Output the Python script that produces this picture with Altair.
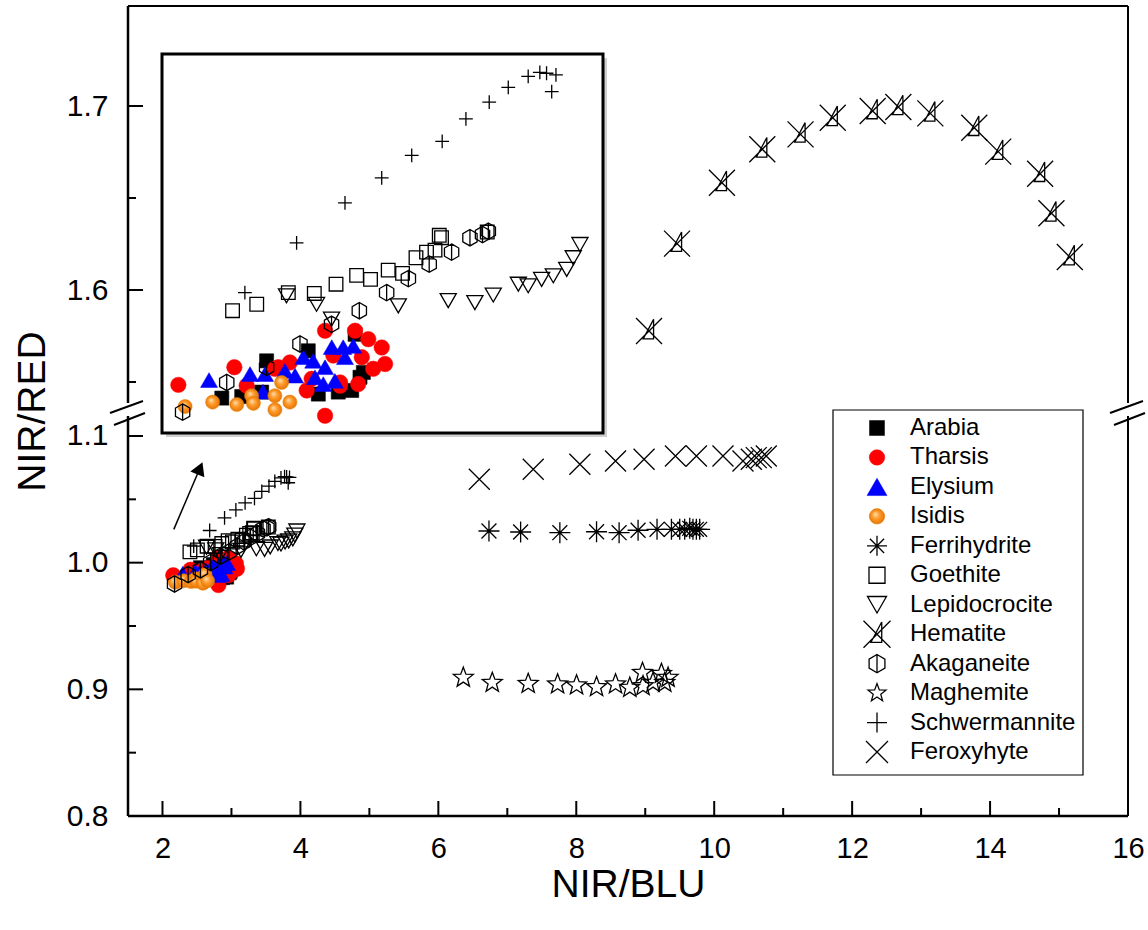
import altair as alt
import pandas as pd

# ---------------------------------------------------------------- layout
W, H = 1000, 810
PAD = {"left": 128, "top": 6, "right": 20, "bottom": 114}
FONT = "Liberation Sans"

# ---------------------------------------------------------------- series
SERIES = ["Arabia", "Tharsis", "Elysium", "Isidis", "Ferrihydrite", "Goethite",
          "Lepidocrocite", "Hematite", "Akaganeite", "Maghemite", "Schwermannite",
          "Feroxyhyte"]

arabia_x = [2.350, 2.439, 2.550, 2.528, 2.781, 2.870, 2.930, 2.736, 2.945, 2.982, 2.967]
arabia_y = [0.9867, 0.9871, 0.9960, 0.9882, 0.9877, 0.9882, 0.9886, 0.9985, 1.0026, 0.9931, 0.9919]

tharsis_x = [2.156, 2.406, 2.461, 2.587, 2.811, 2.945, 3.004, 3.064, 3.079, 3.026,
             2.959, 2.729, 2.654, 2.602, 2.811, 2.878, 2.975, 2.878, 2.751, 2.848]
tharsis_y = [0.9900, 0.9944, 0.9898, 0.9940, 1.0035, 1.0035, 1.0014, 0.9993, 0.9952, 0.9940,
             0.9902, 0.9886, 0.9956, 0.9944, 0.9823, 0.9898, 0.9969, 0.9906, 0.9915, 0.9973]

elysium_x = [2.293, 2.476, 2.543, 2.534, 2.714, 2.758, 2.841, 2.892, 2.937, 2.811,
             2.855, 2.803, 2.632, 2.677, 2.900, 2.766]
elysium_y = [0.9912, 0.9927, 0.9927, 0.9883, 0.9969, 0.9960, 0.9994, 0.9994, 0.9997, 0.9944,
             0.9910, 0.9902, 0.9935, 0.9923, 0.9969, 0.9919]

isidis_x = [2.186, 2.309, 2.417, 2.483, 2.491, 2.587, 2.587, 2.617, 2.654]
isidis_y = [0.9846, 0.9857, 0.9851, 0.9873, 0.9854, 0.9873, 0.9838, 0.9906, 0.9857]

ferrihydrite_x = [6.734, 7.193, 7.762, 8.294, 8.621, 8.896, 9.171, 9.380, 9.500, 9.572,
                  9.645, 9.692, 9.741, 9.789]
ferrihydrite_y = [1.0250, 1.0242, 1.0237, 1.0244, 1.0237, 1.0256, 1.0263, 1.0263, 1.0263, 1.0263,
                  1.0271, 1.0263, 1.0263, 1.0263]

goethite_x = [2.398, 2.506, 2.647, 2.763, 2.860, 2.952, 3.014, 3.093, 3.157, 3.217,
              3.264, 3.302, 3.321, 3.331, 3.535]
goethite_y = [1.0085, 1.0101, 1.0130, 1.0128, 1.0151, 1.0173, 1.0163, 1.0186, 1.0178, 1.0217,
              1.0231, 1.0236, 1.0273, 1.0267, 1.0281]

lepidocrocite_x = [2.639, 2.773, 2.840, 3.138, 3.361, 3.480, 3.562, 3.674, 3.718, 3.778,
                   3.830, 3.890, 3.919, 3.949]
lepidocrocite_y = [1.0122, 1.0101, 1.0064, 1.0097, 1.0110, 1.0105, 1.0124, 1.0151, 1.0147, 1.0163,
                   1.0172, 1.0188, 1.0217, 1.0250]

hematite_x = [9.055, 9.461, 10.112, 10.697, 11.252, 11.719, 12.298, 12.670, 13.134, 13.771,
              14.118, 14.726, 14.890, 15.156]
hematite_y = [1.5777, 1.6252, 1.6583, 1.6765, 1.6846, 1.6936, 1.6973, 1.6995, 1.6960, 1.6882,
              1.6752, 1.6632, 1.6417, 1.6179]

akaganeite_x = [2.175, 2.372, 2.550, 2.699, 2.840, 2.964, 3.086, 3.183, 3.276, 3.376,
                3.458, 3.514, 3.540]
akaganeite_y = [0.9832, 0.9906, 0.9944, 1.0002, 1.0051, 1.0085, 1.0130, 1.0165, 1.0201, 1.0231,
                1.0267, 1.0275, 1.0283]

maghemite_x = [6.362, 6.782, 7.303, 7.729, 8.004, 8.294, 8.569, 8.776, 8.960, 8.968,
               9.113, 9.235, 9.283, 9.331]
maghemite_y = [0.9092, 0.9052, 0.9044, 0.9040, 0.9032, 0.9018, 0.9040, 0.9013, 0.9131, 0.9026,
               0.9052, 0.9123, 0.9052, 0.9092]

schwermannite_x = [2.453, 2.684, 2.900, 3.064, 3.198, 3.334, 3.440, 3.544, 3.629, 3.718,
                   3.770, 3.800, 3.842, 3.823]
schwermannite_y = [1.0130, 1.0254, 1.0354, 1.0416, 1.0472, 1.0507, 1.0563, 1.0605, 1.0642, 1.0669,
                   1.0679, 1.0677, 1.0673, 1.0631]

feroxyhyte_x = [6.594, 7.376, 8.052, 8.569, 8.983, 9.438, 9.742, 10.127, 10.417, 10.538,
                10.610, 10.683, 10.755]
feroxyhyte_y = [1.0658, 1.0737, 1.0777, 1.0803, 1.0816, 1.0842, 1.0842, 1.0842, 1.0803, 1.0816,
                1.0829, 1.0829, 1.0842]

VALUES = {
    "Arabia": (arabia_x, arabia_y),
    "Tharsis": (tharsis_x, tharsis_y),
    "Elysium": (elysium_x, elysium_y),
    "Isidis": (isidis_x, isidis_y),
    "Ferrihydrite": (ferrihydrite_x, ferrihydrite_y),
    "Goethite": (goethite_x, goethite_y),
    "Lepidocrocite": (lepidocrocite_x, lepidocrocite_y),
    "Hematite": (hematite_x, hematite_y),
    "Akaganeite": (akaganeite_x, akaganeite_y),
    "Maghemite": (maghemite_x, maghemite_y),
    "Schwermannite": (schwermannite_x, schwermannite_y),
    "Feroxyhyte": (feroxyhyte_x, feroxyhyte_y),
}
CLUSTER = ["Arabia", "Tharsis", "Elysium", "Isidis", "Goethite", "Lepidocrocite",
           "Akaganeite", "Schwermannite"]

# axis ticks
X_MAJOR = [2, 4, 6, 8, 10, 12, 14, 16]
X_MINOR = [3, 5, 7, 9, 11, 13, 15]
Y_MAJOR = [0.8, 0.9, 1.0, 1.1, 1.6, 1.7]
Y_MINOR = [0.85, 0.95, 1.05, 1.55, 1.65]

# arrow pointing at the magnified region (NIR/BLU, NIR/RED)
ARROW_FROM = (2.164, 1.0263)
ARROW_TO = (2.507, 1.0700)
ARROW_HEAD = (2.543, 1.0745)

# inset window
INSET_X = [2.083, 4.052]
INSET_Y = [0.978, 1.0725]
INSET_RANGE_X = [34, 475]
INSET_RANGE_Y = [427, 48]

# ---------------------------------------------------------------- marker styles
ASTERISK = "M-1,0L1,0M0,-1L0,1M-0.71,-0.71L0.71,0.71M-0.71,0.71L0.71,-0.71"
HEMATITE = "M-1,-1L1,1M-1,1L1,-1M0.35,-0.9L0.35,0.6L-0.45,0.6Z"
HEXBAR = "M0,-1L0.87,-0.5L0.87,0.5L0,1L-0.87,0.5L-0.87,-0.5ZM0,-1L0,1"
STAR = ("M0,-1L0.247,-0.34L0.951,-0.309L0.399,0.13L0.588,0.809L0,0.42"
        "L-0.588,0.809L-0.399,0.13L-0.951,-0.309L-0.247,-0.34Z")
PLUS = "M-1,0L1,0M0,-1L0,1"
CROSS = "M-1,-1L1,1M-1,1L1,-1"

SPHERE = {
    "gradient": "radial",
    "x1": 0.38, "y1": 0.35, "r1": 0.0,
    "x2": 0.5, "y2": 0.5, "r2": 0.55,
    "stops": [
        {"offset": 0.0, "color": "#ffe2b8"},
        {"offset": 0.45, "color": "#ff9a2a"},
        {"offset": 1.0, "color": "#e07000"},
    ],
}

# name: (shape, fill, stroke, stroke width, plot size, legend size)
STYLE = {
    "Arabia": ("square", "#000000", "#000000", 0.5, 200, 225),
    "Tharsis": ("circle", "#ff0000", "#ff0000", 0.5, 240, 240),
    "Elysium": ("triangle-up", "#0000ff", "#0000ff", 0.5, 290, 400),
    "Isidis": ("circle", SPHERE, "#e88000", 0.5, 200, 240),
    "Ferrihydrite": (ASTERISK, "transparent", "#000000", 1.3, 441, 400),
    "Goethite": ("square", "transparent", "#000000", 1.3, 185, 256),
    "Lepidocrocite": ("triangle-down", "transparent", "#000000", 1.3, 260, 361),
    "Hematite": (HEMATITE, "transparent", "#000000", 1.3, 676, 729),
    "Akaganeite": (HEXBAR, "transparent", "#000000", 1.3, 270, 330),
    "Maghemite": (STAR, "transparent", "#000000", 1.3, 440, 360),
    "Schwermannite": (PLUS, "transparent", "#000000", 1.3, 190, 400),
    "Feroxyhyte": (CROSS, "transparent", "#000000", 1.3, 441, 484),
}

# ---------------------------------------------------------------- broken y axis
LOW_BASE, LOW_SCALE = 0.8, 1266.667
HIGH_REF, HIGH_SCALE, HIGH_AT = 1.6, 1840.0, 526.0
SPLIT = 1.3


def disp(v):
    return (v - LOW_BASE) * LOW_SCALE if v < SPLIT else HIGH_AT + (v - HIGH_REF) * HIGH_SCALE


def disp_expr(field):
    return (f"datum.{field} < {SPLIT} ? (datum.{field} - {LOW_BASE}) * {LOW_SCALE}"
            f" : {HIGH_AT} + (datum.{field} - {HIGH_REF}) * {HIGH_SCALE}")


LABEL_EXPR = (f"datum.value < 460 ? format({LOW_BASE} + datum.value / {LOW_SCALE}, '.1f')"
              f" : format({HIGH_REF} + (datum.value - {HIGH_AT}) / {HIGH_SCALE}, '.1f')")

# ---------------------------------------------------------------- tables
rows = []
for name in SERIES:
    xs, ys = VALUES[name]
    for a, b in zip(xs, ys):
        rows.append({"series": name, "nir_blu": a, "nir_red": b})
points = pd.DataFrame(rows)
ONE = pd.DataFrame({"k": [0]})

# ---------------------------------------------------------------- main axes
X_AXIS = alt.Axis(
    title="NIR/BLU", values=X_MAJOR, format="d", ticks=False, domain=False, grid=False,
    labelFont=FONT, labelFontSize=29, labelPadding=18, labelColor="black",
    labelFlush=False, labelOverlap=False,
    titleFont=FONT, titleFontSize=39, titleFontWeight="normal", titleColor="black",
    titlePadding=2,
)
Y_AXIS = alt.Axis(
    title="NIR/RED", values=[disp(v) for v in Y_MAJOR], labelExpr=LABEL_EXPR,
    ticks=False, domain=False, grid=False,
    labelFont=FONT, labelFontSize=30, labelPadding=20, labelColor="black",
    labelOverlap=False, labelFlush=False,
    titleFont=FONT, titleFontSize=39, titleFontWeight="normal", titleColor="black",
    titlePadding=14,
)
X_SCALE = alt.Scale(domain=[1.5, 16], nice=False, zero=False)
Y_SCALE = alt.Scale(domain=[0, H], nice=False, zero=False)


def xm(field="nir_blu"):
    return alt.X(f"{field}:Q", scale=X_SCALE, axis=X_AXIS)


def ym(field="disp"):
    return alt.Y(f"{field}:Q", scale=Y_SCALE, axis=Y_AXIS)


def series_marks(data, names, xenc, yenc, calc=None, legend=False):
    layers = []
    for name in names:
        shape, fill, stroke, sw, size, lsize = STYLE[name]
        base = alt.Chart(data).transform_filter(alt.datum.series == name)
        if calc:
            base = base.transform_calculate(**calc)
        layers.append(base.mark_point(
            shape=shape, fill=fill, stroke=stroke, strokeWidth=sw, filled=True,
            opacity=1, size=lsize if legend else size,
        ).encode(x=xenc, y=yenc))
    return layers


def seg(x1, y1, x2, y2, w=2.0):
    return alt.Chart(ONE).mark_rule(color="black", strokeWidth=w, strokeCap="butt").encode(
        x=alt.value(x1), y=alt.value(y1), x2=alt.value(x2), y2=alt.value(y2))


# ---------------------------------------------------------------- main panel
main_pts = series_marks(points, SERIES, xm(), ym(), calc={"disp": disp_expr("nir_red")})

x_major = alt.Chart(pd.DataFrame({"nir_blu": X_MAJOR})).mark_rule(
    color="black", strokeWidth=2).encode(x=xm(), y=alt.value(H), y2=alt.value(H - 15))
x_minor = alt.Chart(pd.DataFrame({"nir_blu": X_MINOR})).mark_rule(
    color="black", strokeWidth=2).encode(x=xm(), y=alt.value(H), y2=alt.value(H - 8))
y_major = alt.Chart(pd.DataFrame({"nir_red": Y_MAJOR})).transform_calculate(
    disp=disp_expr("nir_red")).mark_rule(color="black", strokeWidth=2).encode(
    y=ym(), x=alt.value(0), x2=alt.value(15))
y_minor = alt.Chart(pd.DataFrame({"nir_red": Y_MINOR})).transform_calculate(
    disp=disp_expr("nir_red")).mark_rule(color="black", strokeWidth=2).encode(
    y=ym(), x=alt.value(0), x2=alt.value(8))

# frame with the axis break on both vertical sides
GAP_TOP, GAP_BOT = 397, 410
frame = [
    seg(0, 0, W, 0, 2), seg(0, H, W, H, 2.5),
    seg(0, 0, 0, GAP_TOP, 2.5), seg(0, GAP_BOT, 0, H, 2.5),
    seg(W, 0, W, GAP_TOP, 2), seg(W, GAP_BOT, W, H, 2),
    seg(-18, 407, 15, 395, 2), seg(-14, 419, 17, 407, 2),
    seg(W - 18, 407, W + 15, 395, 2), seg(W - 14, 419, W + 17, 407, 2),
]

arrow_df = pd.DataFrame({"x0": [ARROW_FROM[0]], "y0": [ARROW_FROM[1]],
                         "x1": [ARROW_TO[0]], "y1": [ARROW_TO[1]],
                         "hx": [ARROW_HEAD[0]], "hy": [ARROW_HEAD[1]]})
arrow_line = alt.Chart(arrow_df).transform_calculate(
    d0=disp_expr("y0"), d1=disp_expr("y1")).mark_rule(color="black", strokeWidth=1.5).encode(
    x=xm("x0"), y=ym("d0"), x2=alt.X2("x1"), y2=alt.Y2("d1"))
arrow_head = alt.Chart(arrow_df).transform_calculate(
    dh=disp_expr("hy")).mark_point(shape="triangle-up", filled=True, color="black",
                                   opacity=1, size=230, angle=23).encode(
    x=xm("hx"), y=ym("dh"))

main_group = alt.layer(x_major, x_minor, y_major, y_minor, *frame, *main_pts,
                       arrow_line, arrow_head)

# ---------------------------------------------------------------- inset
IX_SCALE = alt.Scale(domain=INSET_X, range=INSET_RANGE_X, nice=False, zero=False)
IY_SCALE = alt.Scale(domain=INSET_Y, range=INSET_RANGE_Y, nice=False, zero=False)


def xi(field="nir_blu"):
    return alt.X(f"{field}:Q", scale=IX_SCALE, axis=None)


def yi(field="nir_red"):
    return alt.Y(f"{field}:Q", scale=IY_SCALE, axis=None)


box_df = pd.DataFrame({"x0": [INSET_X[0]], "x1": [INSET_X[1]],
                       "y0": [INSET_Y[0]], "y1": [INSET_Y[1]]})
shadow = alt.Chart(box_df).mark_rect(
    fill="#c4c4c4", opacity=0.8, xOffset=4, x2Offset=4, yOffset=4, y2Offset=4).encode(
    x=xi("x0"), x2=alt.X2("x1"), y=yi("y0"), y2=alt.Y2("y1"))
box = alt.Chart(box_df).mark_rect(fill="white", stroke="black", strokeWidth=3).encode(
    x=xi("x0"), x2=alt.X2("x1"), y=yi("y0"), y2=alt.Y2("y1"))

inset_points = points[points["series"].isin(CLUSTER)]
inset_order = [s for s in SERIES if s in CLUSTER]
inset_group = alt.layer(shadow, box, *series_marks(inset_points, inset_order, xi(), yi()))

# ---------------------------------------------------------------- legend
legend_df = pd.DataFrame({"series": SERIES})
LEG_Y = alt.Y("series:N", axis=None,
              scale=alt.Scale(type="point", domain=SERIES, range=[422, 746], padding=0))
legend_box = alt.Chart(ONE).mark_rect(fill="white", stroke="black", strokeWidth=1.2).encode(
    x=alt.value(705), x2=alt.value(955), y=alt.value(404), y2=alt.value(769))
legend_syms = series_marks(legend_df, SERIES, alt.value(749), LEG_Y, legend=True)
legend_text = alt.Chart(legend_df).mark_text(
    align="left", baseline="middle", font=FONT, fontSize=24, color="black").encode(
    x=alt.value(782), y=LEG_Y, text="series:N")
legend_group = alt.layer(legend_box, *legend_syms, legend_text)

# ---------------------------------------------------------------- assemble
chart = alt.layer(main_group, inset_group, legend_group).resolve_scale(
    x="independent", y="independent"
).properties(
    width=W, height=H, padding=PAD, autosize=alt.AutoSizeParams(type="none"),
    background="white",
).configure_view(stroke=None)

chart.save("out.html", embed_options={"renderer": "svg", "actions": False})
